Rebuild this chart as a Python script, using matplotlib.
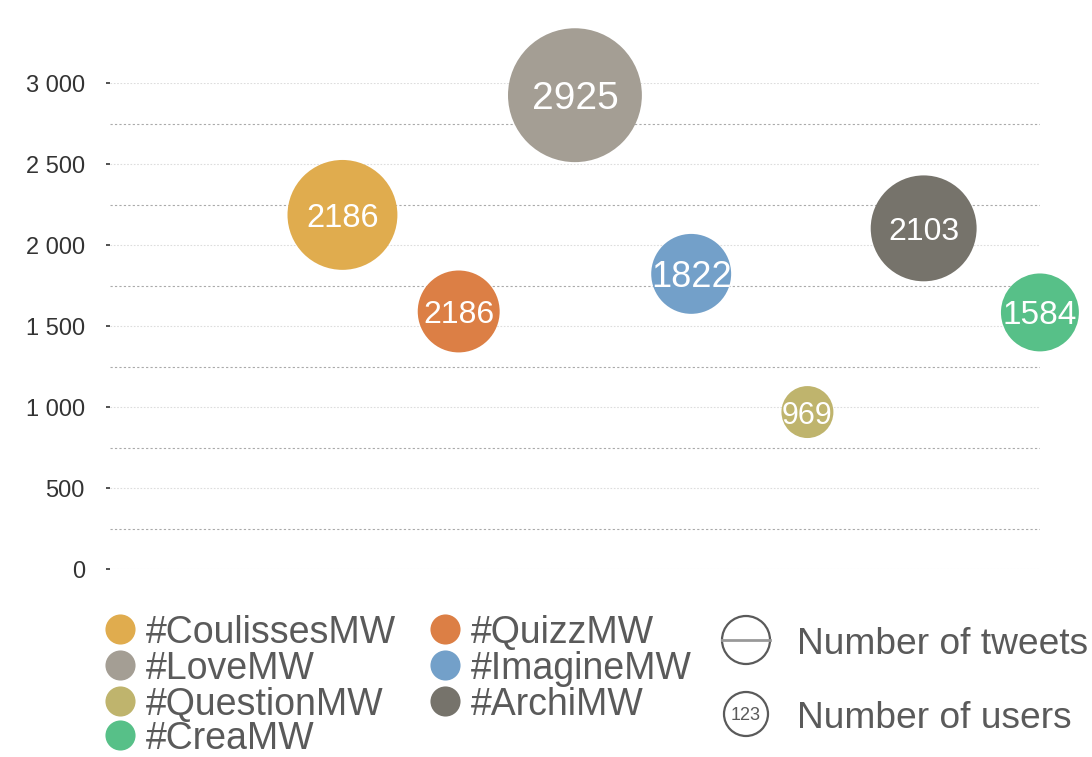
import numpy as np
import matplotlib
matplotlib.use('Agg')
import matplotlib.pyplot as plt
from matplotlib.ticker import FuncFormatter, MultipleLocator

plt.rcParams['font.family'] = ['Liberation Sans', 'DejaVu Sans']

# data
hashtags = ['#CoulissesMW', '#QuizzMW', '#LoveMW', '#ImagineMW',
            '#QuestionMW', '#ArchiMW', '#CreaMW']
y_values = [2186, 1590, 2925, 1822, 969, 2103, 1584]
user_labels = ['2186', '2186', '2925', '1822', '969', '2103', '1584']
tweets = [3025, 1681, 4489, 1600, 676, 2809, 1521]
colors = ['#E0AC4E', '#DC7F45', '#A49E94', '#73A0C9',
          '#BFB46D', '#76736B', '#57C088']
label_sizes = [23.5, 23, 28, 26, 22, 23, 24]

text_grey = '#5a5a5a'

fig = plt.figure(figsize=(10.92, 7.57), dpi=100)
ax = fig.add_axes([0.1007, 0.2483, 0.8516, 0.642])

x = np.arange(len(hashtags))
ax.scatter(x, y_values, s=np.array(tweets) * 2.07, c=colors,
           linewidths=0, zorder=3, clip_on=False)
for xi, yi, lab, fs in zip(x, y_values, user_labels, label_sizes):
    ax.text(xi, yi, lab, color='white', fontsize=fs, ha='center',
            va='center_baseline', zorder=4)

ax.set_xlim(-2, 6)
ax.set_ylim(0, 3000)

# grid: light lines on the 500s, darker dotted on the 250s between
for v in np.arange(0, 3001, 500):
    ax.axhline(v, color='#dddddd', lw=0.8, ls=(0, (1.5, 1.5)), zorder=1)
for v in np.arange(250, 3000, 500):
    ax.axhline(v, color='#aaaaaa', lw=0.8, ls=(0, (2, 2)), zorder=1)

ax.yaxis.set_major_locator(MultipleLocator(500))
ax.yaxis.set_major_formatter(FuncFormatter(lambda v, p: f'{int(v):,}'.replace(',', ' ')))
ax.tick_params(axis='y', length=3, width=1.2, color='#333333', pad=15,
               labelsize=17, labelcolor='#333333')
ax.set_xticks([])
for sp in ax.spines.values():
    sp.set_visible(False)

# overlay in pixel coords for the legends
ax2 = fig.add_axes([0, 0, 1, 1], facecolor='none')
ax2.set_xlim(0, 1092)
ax2.set_ylim(757, 0)
ax2.axis('off')

# hashtag legend, two columns
order = [0, 2, 4, 6, 1, 3, 5]
col_x = [120, 445]
row_y = [629, 665, 701, 735]
for k, i in enumerate(order):
    cx = col_x[k // 4]
    ry = row_y[k % 4]
    ax2.scatter([cx], [ry], s=470, color=colors[i], linewidths=0)
    ax2.text(cx + 26, ry, hashtags[i], ha='left', va='center_baseline',
             fontsize=27, color=text_grey)

# size / label legend
c1 = plt.Circle((746, 640), 24, fill=False, ec=text_grey, lw=1.6)
c2 = plt.Circle((746, 714), 22, fill=False, ec=text_grey, lw=1.6)
ax2.add_patch(c1)
ax2.add_patch(c2)
ax2.plot([722, 770], [640, 640], color='#999999', lw=2)
ax2.text(746, 714, '123', ha='center', va='center_baseline', fontsize=13, color=text_grey)
ax2.text(797, 640, 'Number of tweets', ha='left', va='center_baseline', fontsize=26.7, color=text_grey)
ax2.text(797, 714, 'Number of users', ha='left', va='center_baseline', fontsize=26.7, color=text_grey)

fig.savefig('out.png', dpi=100)
